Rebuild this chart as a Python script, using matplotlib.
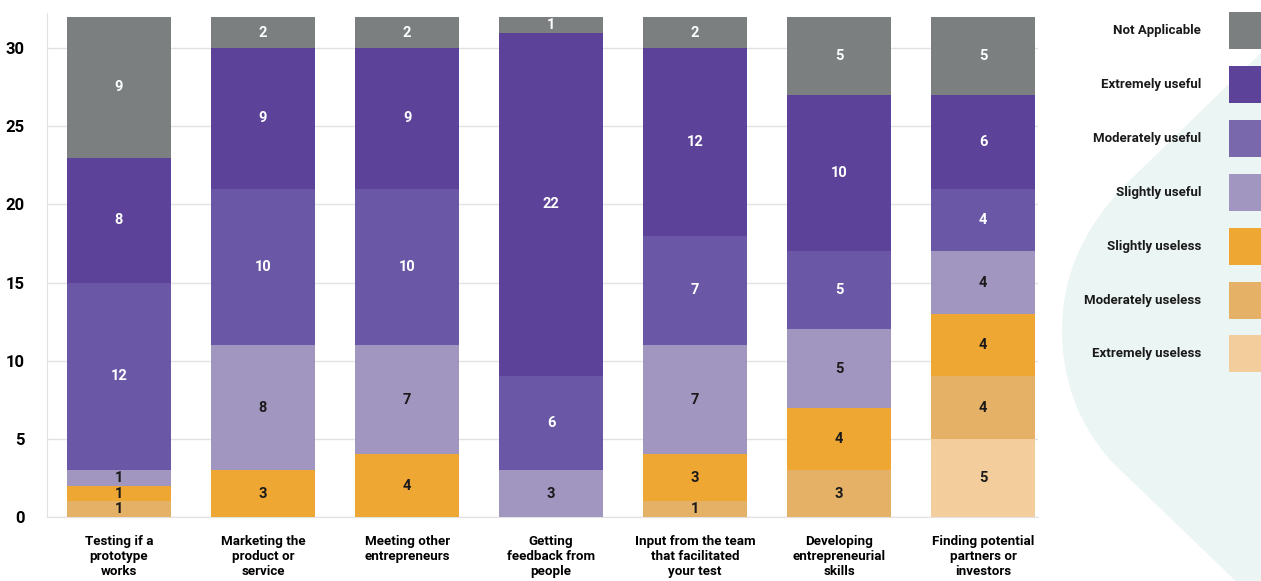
import matplotlib
matplotlib.use("Agg")
import matplotlib.pyplot as plt
import numpy as np
from matplotlib.patches import Rectangle, PathPatch
from matplotlib.path import Path

plt.rcParams['font.family'] = ['Roboto', 'DejaVu Sans']

categories = ["Testing if a\nprototype\nworks", "Marketing the\nproduct or\nservice",
              "Meeting other\nentrepreneurs", "Getting\nfeedback from\npeople",
              "Input from the team\nthat facilitated\nyour test", "Developing\nentrepreneurial\nskills",
              "Finding potential\npartners or\ninvestors"]

# stacked bottom -> top
series_names = ["Extremely useless", "Moderately useless", "Slightly useless",
                "Slightly useful", "Moderately useful", "Extremely useful", "Not Applicable"]
extremely_useless = [0, 0, 0, 0, 0, 0, 5]
moderately_useless = [1, 0, 0, 0, 1, 3, 4]
slightly_useless = [1, 3, 4, 0, 3, 4, 4]
slightly_useful = [1, 8, 7, 3, 7, 5, 4]
moderately_useful = [12, 10, 10, 6, 7, 5, 4]
extremely_useful = [8, 9, 9, 22, 12, 10, 6]
not_applicable = [9, 2, 2, 1, 2, 5, 5]

series = [extremely_useless, moderately_useless, slightly_useless, slightly_useful,
          moderately_useful, extremely_useful, not_applicable]
colors = ["#f3cd9b", "#e5b166", "#eea732", "#a196c0", "#6a57a5", "#5c4399", "#7b7f80"]
label_colors = ["#1a1a1a", "#1a1a1a", "#1a1a1a", "#1a1a1a", "white", "white", "white"]

W, H = 1261, 581
fig = plt.figure(figsize=(W / 100, H / 100), dpi=100)

# decorative background shape
def fp(x, y):
    return (x / W, 1 - y / H)

verts = [fp(1300, 15), fp(1125, 185), fp(1062, 250), fp(1062, 330),
         fp(1062, 405), fp(1110, 460), fp(1245, 590), fp(1300, 590), fp(1300, 15)]
codes = [Path.MOVETO, Path.LINETO, Path.CURVE3, Path.CURVE3, Path.CURVE3, Path.CURVE3,
         Path.LINETO, Path.LINETO, Path.CLOSEPOLY]
fig.patches.append(PathPatch(Path(verts, codes), transform=fig.transFigure,
                             facecolor="#ebf5f3", edgecolor="none", zorder=0))

ax = fig.add_axes([47 / W, 1 - 517 / H, (1038 - 47) / W, (517 - 13) / H])
ax.set_facecolor("none")
x = np.arange(len(categories))
bottom = np.zeros(len(categories))
for vals, col, lc in zip(series, colors, label_colors):
    vals = np.array(vals, dtype=float)
    ax.bar(x, vals, bottom=bottom, width=0.72, color=col, zorder=3)
    for xi, v, b in zip(x, vals, bottom):
        if v > 0:
            ax.text(xi, b + v / 2, f"{int(v)}", ha="center", va="center",
                    color=lc, fontsize=10.5, fontweight="bold", zorder=4)
    bottom += vals

ax.set_xlim(-0.5, 6.38)
ax.set_ylim(0, 32.25)
ax.set_yticks([0, 5, 10, 15, 20, 25, 30])
ax.yaxis.grid(True, color="#e2e2e2", linewidth=1, zorder=0)
ax.set_axisbelow(True)
for s in ["top", "right"]:
    ax.spines[s].set_visible(False)
for s in ["left", "bottom"]:
    ax.spines[s].set_color("#e2e2e2")
ax.tick_params(axis="both", length=0)
ax.tick_params(axis="y", pad=16, labelsize=12)
ax.set_xticks(x)
ax.set_xticklabels(categories, fontsize=9.6, fontweight="bold", linespacing=1.18)
ax.tick_params(axis="x", pad=13)
for lab in ax.get_yticklabels():
    lab.set_fontweight("bold")

# legend (manual)
legend_order = ["Not Applicable", "Extremely useful", "Moderately useful", "Slightly useful",
                "Slightly useless", "Moderately useless", "Extremely useless"]
legend_colors = ["#7b7f80", "#5c4399", "#7a68ac", "#a196c0", "#eea732", "#e5b166", "#f3cd9b"]
for i, (name, col) in enumerate(zip(legend_order, legend_colors)):
    top = 12 + 54 * i if i < 6 else 335
    fig.patches.append(Rectangle(((1229) / W, 1 - (top + 37) / H), 40 / W, 37 / H,
                                 transform=fig.transFigure, facecolor=col, edgecolor="none", zorder=2))
    fig.text(1201 / W, 1 - (top + 18.5) / H, name, ha="right", va="center",
             fontsize=9.5, fontweight="bold", color="#1a1a1a")

fig.savefig("out.png", dpi=100)
